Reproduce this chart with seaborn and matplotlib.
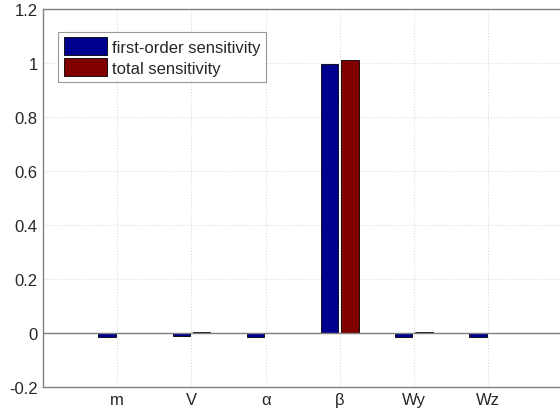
import numpy as np
import pandas as pd
import matplotlib
matplotlib.use("Agg")
import matplotlib.pyplot as plt
import seaborn as sns

# sensitivity indices
params = ['m', 'V', 'α', 'β', 'Wy', 'Wz']
first_order = [-0.015, -0.012, -0.015, 0.995, -0.015, -0.016]
total = [-0.002, 0.004, 0.001, 1.01, 0.002, 0.0]
labels = ['first-order sensitivity', 'total sensitivity']

df = pd.DataFrame({
    'param': params * 2,
    'value': first_order + total,
    'kind': [labels[0]] * len(params) + [labels[1]] * len(params),
})

sns.set_style("white")
plt.rcParams['font.family'] = ['Liberation Sans', 'DejaVu Sans']

fig = plt.figure(figsize=(5.6, 4.14), dpi=100)
ax = fig.add_axes([0.077, 0.063, 0.927, 0.913])

sns.barplot(data=df, x='param', y='value', hue='kind', order=params,
            palette=['#00008F', '#800000'], saturation=1, width=0.55, gap=0.15,
            edgecolor='black', linewidth=0.6, errorbar=None, ax=ax, zorder=3)

ax.axhline(0, color='#808080', linewidth=1.0, zorder=4)
ax.set_xlim(-1, 6)
ax.set_ylim(-0.2, 1.2)
ax.set_yticks(np.arange(-0.2, 1.21, 0.2))
ax.set_yticklabels(['-0.2', '0', '0.2', '0.4', '0.6', '0.8', '1', '1.2'])
ax.set_xlabel('')
ax.set_ylabel('')
ax.grid(True, linestyle=':', color='#dcdcdc', linewidth=0.8, zorder=0)
ax.set_axisbelow(True)
ax.tick_params(axis='both', direction='in', length=3, labelsize=12,
               color='#808080', labelcolor='#262626', pad=4)
for s in ax.spines.values():
    s.set_color('#808080')
    s.set_linewidth(1.0)

leg = ax.legend(loc='upper left', bbox_to_anchor=(0.012, 0.962), fontsize=12,
                frameon=True, fancybox=False, edgecolor='#808080',
                handlelength=2.6, handleheight=1.25, borderpad=0.35,
                labelspacing=0.2, handletextpad=0.3)
leg.get_frame().set_linewidth(0.8)

fig.savefig('out.png', dpi=100)
